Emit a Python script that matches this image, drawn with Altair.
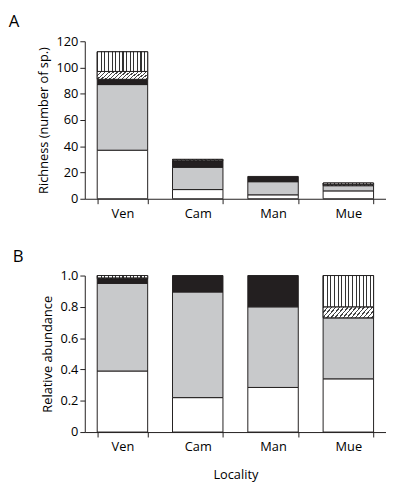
import altair as alt
import pandas as pd

localities = ["Ven", "Cam", "Man", "Mue"]
groups = ["g1", "g2", "g3", "g4", "g5"]

# Panel A: richness (number of species)
rich_g1 = [37, 7, 3, 6]
rich_g2 = [50, 17, 10, 4]
rich_g3 = [4, 5, 4, 0]
rich_g4 = [6, 1, 0, 1]
rich_g5 = [15, 0, 0, 1]

# Panel B: relative abundance
abund_g1 = [0.39, 0.22, 0.285, 0.34]
abund_g2 = [0.56, 0.675, 0.515, 0.39]
abund_g3 = [0.03, 0.105, 0.20, 0.0]
abund_g4 = [0.005, 0.0, 0.0, 0.07]
abund_g5 = [0.015, 0.0, 0.0, 0.20]

rich_ticks = [0, 20, 40, 60, 80, 100, 120]
abund_ticks = [0, 0.2, 0.4, 0.6, 0.8, 1.0]

INK = "#231f20"
GRAY = "#c8c9cb"
FONT = "Open Sans"


def long_table(series):
    rows = []
    for gi, (g, vals) in enumerate(zip(groups, series)):
        for loc, v in zip(localities, vals):
            if v > 0:
                rows.append({"locality": loc, "group": g, "order": gi, "value": v})
    return pd.DataFrame(rows)


def stripe_stops(n, frac, line, bg):
    stops = []
    for p in range(n):
        a = p / n
        b = (p + frac) / n
        c = (p + 1) / n
        stops += [
            alt.GradientStop(color=line, offset=a),
            alt.GradientStop(color=line, offset=b),
            alt.GradientStop(color=bg, offset=b),
            alt.GradientStop(color=bg, offset=c),
        ]
    return stops


vert_fill = alt.LinearGradient(
    gradient="linear", x1=0, y1=0, x2=1, y2=0,
    stops=stripe_stops(14, 0.3, "#333333", "white"),
)
r = 0.18
k = 1.25
diag_fill = alt.LinearGradient(
    gradient="linear", x1=0, y1=0, x2=k, y2=k * r,
    stops=stripe_stops(16, 0.33, "#444444", "white"),
)


def panel(df, ytitle, ydomain, yvalues, label_expr, xtitle, title, height):
    x = alt.X(
        "locality:N",
        sort=localities,
        scale=alt.Scale(paddingInner=0.33, paddingOuter=0.165),
        axis=alt.Axis(
            title=xtitle, labelAngle=0, tickBand="extent", labelPadding=4,
            titlePadding=15,
        ),
    )
    if label_expr:
        yaxis = alt.Axis(title=ytitle, values=yvalues, grid=False,
                         labelExpr=label_expr, titlePadding=6)
    else:
        yaxis = alt.Axis(title=ytitle, values=yvalues, grid=False, titlePadding=6)
    y = alt.Y("y0:Q", scale=alt.Scale(domain=ydomain, nice=False), axis=yaxis)

    base = alt.Chart(df).transform_stack(
        stack="value", as_=["y0", "y1"], groupby=["locality"],
        sort=[alt.SortField("order", order="ascending")],
    )
    solid = base.mark_bar(stroke=INK, strokeWidth=1).encode(
        x=x, y=y, y2="y1:Q",
        fill=alt.Fill("group:N", scale=alt.Scale(
            domain=groups, range=["white", GRAY, INK, "white", "white"]), legend=None),
    )
    hatch = base.transform_filter(alt.datum.group == "g4").mark_bar(
        fill=diag_fill, stroke=INK, strokeWidth=1
    ).encode(x=x, y=y, y2="y1:Q")
    vert = base.transform_filter(alt.datum.group == "g5").mark_bar(
        fill=vert_fill, stroke=INK, strokeWidth=1
    ).encode(x=x, y=y, y2="y1:Q")
    return alt.layer(solid, hatch, vert).properties(
        width=306, height=height,
        title=alt.Title(title, anchor="start", frame="bounds", fontSize=17,
                        fontWeight="normal", font=FONT, color="black", dx=-29,
                        offset=4),
    )


dfA = long_table([rich_g1, rich_g2, rich_g3, rich_g4, rich_g5])
dfB = long_table([abund_g1, abund_g2, abund_g3, abund_g4, abund_g5])

pA = panel(dfA, "Richness (number of sp.)", [0, 120], rich_ticks, None, None, "A", 160)
pB = panel(dfB, "Relative abundance", [0, 1], abund_ticks,
           "datum.value == 0 ? '0' : format(datum.value, '.1f')", "Locality", "B", 159)

chart = alt.vconcat(pA, pB, spacing=28).properties(
    padding={"left": 0, "top": 2, "right": 0, "bottom": 0}
).configure_view(stroke=None).configure_axis(
    labelFont=FONT, titleFont=FONT, labelFontSize=13, titleFontSize=13,
    titleFontWeight="normal", labelColor="black", titleColor="black",
    domainColor=INK, tickColor=INK, tickSize=5, domainWidth=1, tickWidth=1,
    labelPadding=2,
)

chart.save("out.html", embed_options={"renderer": "svg", "actions": False})
